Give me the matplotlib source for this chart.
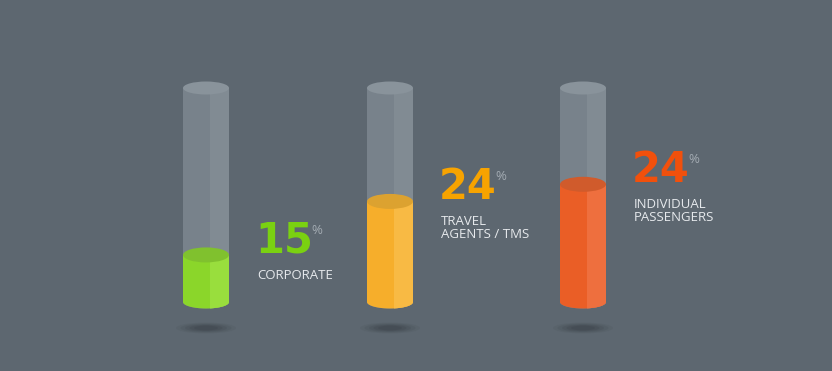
import numpy as np
import matplotlib.pyplot as plt
from matplotlib.patches import Ellipse, Rectangle, Polygon

# ---------------------------------------------------------------------------
# Data
# ---------------------------------------------------------------------------
categories = ["CORPORATE", "TRAVEL\nAGENTS / TMS", "INDIVIDUAL\nPASSENGERS"]
shares = [15, 24, 24]                 # printed percentages
fill_levels = [0.22, 0.47, 0.55]      # liquid level as fraction of tube height

fill_colors = ["#8bd62a", "#f6ae2b", "#ea5e26"]
fill_light = ["#99de3d", "#f8ba44", "#ee6f3e"]
fill_top = ["#80c12e", "#dca230", "#d05b2c"]
number_colors = ["#7ad111", "#f7a300", "#f1500c"]

# ---------------------------------------------------------------------------
# Layout (pixel units, y grows downwards)
# ---------------------------------------------------------------------------
W, H = 832, 371
BG = "#5d6770"
centers = [206, 390, 583]
TUBE_W = 46
TUBE_TOP = 88
TUBE_BOT = 302
TUBE_H = TUBE_BOT - TUBE_TOP
RY = 6.5                              # half-height of the ellipses


def cylinder_outline(cx, top_y):
    """Polygon: flat top at top_y, rounded (elliptical) bottom at TUBE_BOT."""
    t = np.linspace(np.pi, 0, 60)
    xs = cx + TUBE_W / 2 * np.cos(t)
    ys = TUBE_BOT + RY * np.sin(t)
    pts = [(cx - TUBE_W / 2, top_y)] + list(zip(xs, ys)) + [(cx + TUBE_W / 2, top_y)]
    return np.array(pts)


def draw_body(cx, top_y, c_left, c_right, z):
    outline = Polygon(cylinder_outline(cx, top_y), closed=True,
                      facecolor=c_left, lw=0, zorder=z)
    ax.add_patch(outline)
    split = cx + 4
    stripe = Rectangle((split, top_y), cx + TUBE_W / 2 - split,
                       TUBE_BOT + RY + 2 - top_y, color=c_right, lw=0, zorder=z)
    ax.add_patch(stripe)
    stripe.set_clip_path(outline)


fig = plt.figure(figsize=(W / 100, H / 100), dpi=100)
fig.patch.set_facecolor(BG)
ax = fig.add_axes([0, 0, 1, 1])
ax.set_xlim(0, W)
ax.set_ylim(H, 0)
ax.axis("off")

for i, cx in enumerate(centers):
    left = cx - TUBE_W / 2

    # floor shadow
    for k, a in enumerate([0.10, 0.14, 0.18, 0.22, 0.26]):
        ax.add_patch(Ellipse((cx, 328), 60 - 9 * k, 11 - 1.6 * k,
                             color="#3a4148", alpha=a, lw=0, zorder=1))

    # glass tube
    draw_body(cx, TUBE_TOP, "#78828b", "#818b93", 2)
    ax.add_patch(Ellipse((cx, TUBE_TOP), TUBE_W, 2 * RY,
                         color="#89939b", lw=0, zorder=3))

    # liquid
    level_y = TUBE_BOT - fill_levels[i] * TUBE_H
    draw_body(cx, level_y, fill_colors[i], fill_light[i], 4)
    ax.add_patch(Ellipse((cx, level_y), TUBE_W, 2 * RY + 2,
                         color=fill_top[i], lw=0, zorder=5))

    # labels
    tx = left + TUBE_W + 26
    num_y = level_y - 2
    t = ax.text(tx, num_y, f"{shares[i]}", color=number_colors[i],
                fontsize=30, fontweight="bold", family="DejaVu Sans",
                ha="left", va="baseline", zorder=6)
    fig.canvas.draw()
    bb = t.get_window_extent().transformed(ax.transData.inverted())
    ax.text(bb.x1 - 1, num_y - 19, "%", color="#a3abb2", fontsize=9.5,
            family="Open Sans", ha="left", va="baseline", zorder=6)
    ax.text(tx + 2, num_y + 16, categories[i], color="#e6e9ec", fontsize=9.5,
            family="Open Sans", ha="left", va="top", linespacing=1.0, zorder=6)

fig.savefig("out.png", dpi=100, facecolor=BG)
